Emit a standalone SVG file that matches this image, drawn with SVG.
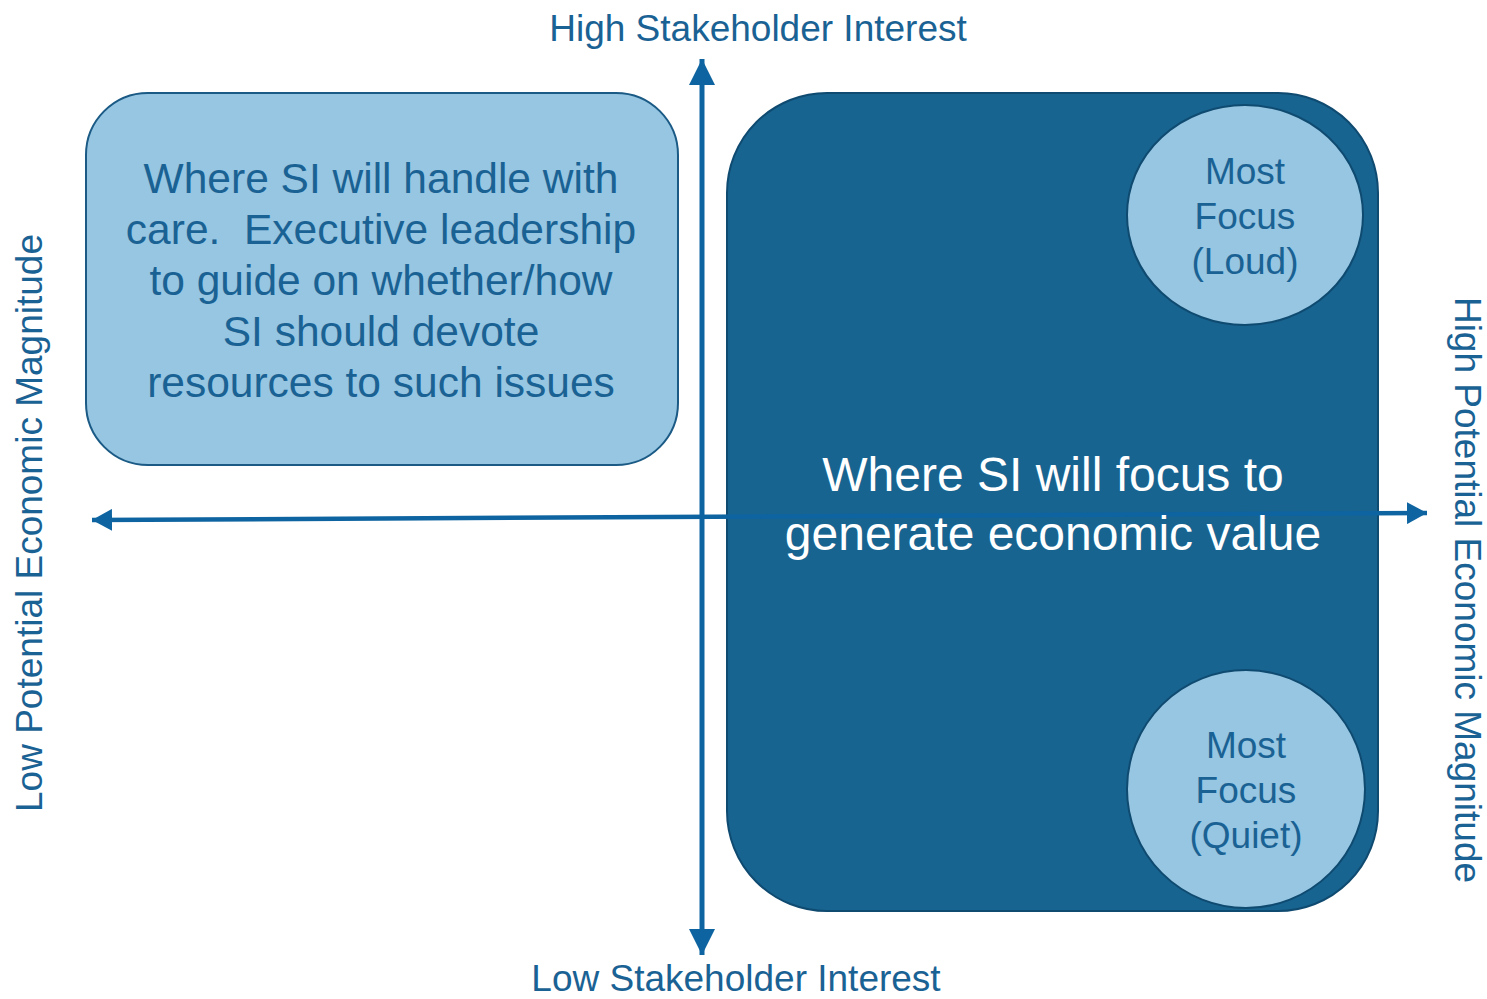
<svg xmlns="http://www.w3.org/2000/svg" width="1487" height="999" viewBox="0 0 1487 999">
  <style>
    .lbl { font-family: "Liberation Sans", Arial, sans-serif; fill: #1a6294; text-anchor: middle; }
    .axis { font-size: 37px; }
    .care { font-size: 42.5px; }
    .focus { font-size: 48px; fill: #ffffff; }
    .dot { font-size: 37px; }
    .light { fill: #96c6e2; }
    .axisline { stroke: #0e64a0; fill: none; }
  </style>
  <defs>
    <marker id="head-v" viewBox="0 0 26 26" refX="26" refY="13" markerWidth="26" markerHeight="26" orient="auto-start-reverse" markerUnits="userSpaceOnUse">
      <path d="M0,0 L26,13 L0,26 z" fill="#0e64a0"/>
    </marker>
    <marker id="head-h" viewBox="0 0 20 22" refX="20" refY="11" markerWidth="20" markerHeight="22" orient="auto-start-reverse" markerUnits="userSpaceOnUse">
      <path d="M0,0 L20,11 L0,22 z" fill="#0e64a0"/>
    </marker>
  </defs>

  <rect width="1487" height="999" fill="#ffffff"/>

  <!-- quadrant: handle with care -->
  <g id="care-box">
    <rect x="86" y="93" width="592" height="372" rx="62" ry="62" class="light" stroke="#1a5a85" stroke-width="2"/>
    <text class="lbl care" x="381" y="193">Where SI will handle with</text>
    <text class="lbl care" x="381" y="244" xml:space="preserve">care.  Executive leadership</text>
    <text class="lbl care" x="381" y="295">to guide on whether/how</text>
    <text class="lbl care" x="381" y="346">SI should devote</text>
    <text class="lbl care" x="381" y="397">resources to such issues</text>
  </g>

  <!-- quadrant: focus for economic value -->
  <g id="focus-box">
    <rect x="727" y="93" width="651" height="818" rx="100" ry="100" fill="#186491" stroke="#0f4a70" stroke-width="2"/>
  </g>

  <g id="loud">
    <ellipse cx="1245" cy="215" rx="118" ry="110" class="light" stroke="#0f4a70" stroke-width="2"/>
    <text class="lbl dot" x="1245" y="184">Most</text>
    <text class="lbl dot" x="1245" y="229">Focus</text>
    <text class="lbl dot" x="1245" y="274">(Loud)</text>
  </g>

  <g id="quiet">
    <ellipse cx="1246" cy="789" rx="119" ry="119" class="light" stroke="#0f4a70" stroke-width="2"/>
    <text class="lbl dot" x="1246" y="758">Most</text>
    <text class="lbl dot" x="1246" y="803">Focus</text>
    <text class="lbl dot" x="1246" y="848">(Quiet)</text>
  </g>

  <!-- axes -->
  <g id="connectors">
    <line class="axisline" stroke-width="5" x1="702" y1="955" x2="702" y2="59" marker-start="url(#head-v)" marker-end="url(#head-v)"/>
    <line class="axisline" stroke-width="4.5" x1="92" y1="520" x2="1427" y2="513" marker-start="url(#head-h)" marker-end="url(#head-h)"/>
  </g>

  <g id="focus-label">
    <text class="lbl focus" x="1053" y="491">Where SI will focus to</text>
    <text class="lbl focus" x="1053" y="550">generate economic value</text>
  </g>

  <g id="axis-labels">
    <text class="lbl axis" x="758" y="41">High Stakeholder Interest</text>
    <text class="lbl axis" x="736" y="991">Low Stakeholder Interest</text>
    <text class="lbl axis" transform="translate(42,523) rotate(-90)">Low Potential Economic Magnitude</text>
    <text class="lbl axis" transform="translate(1455,590) rotate(90)">High Potential Economic Magnitude</text>
  </g>
</svg>
